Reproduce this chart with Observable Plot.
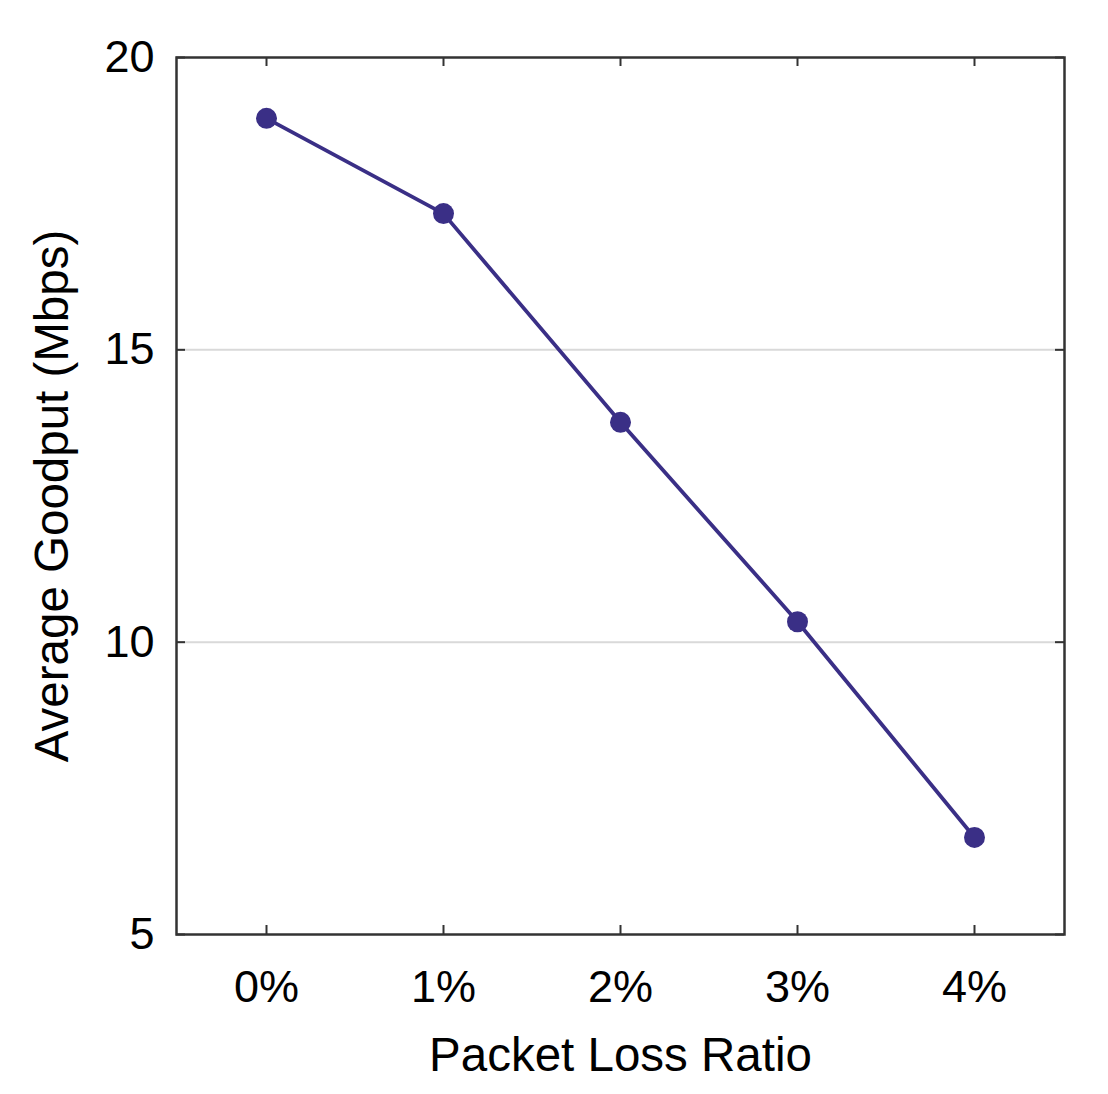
<!DOCTYPE html>
<html>
<head>
<meta charset="utf-8">
<script src="https://cdn.jsdelivr.net/npm/d3@7"></script>
<script src="https://cdn.jsdelivr.net/npm/@observablehq/plot@0.6"></script>
<style>
  html, body { margin: 0; padding: 0; background: #fff; }
  svg { display: block; }
</style>
</head>
<body>
<div id="chart"></div>
<script>
const categories = ["0%", "1%", "2%", "3%", "4%"];
const goodput = [18.96, 17.33, 13.76, 10.35, 6.66];
const yTicks = [5, 10, 15, 20];
const gridValues = [10, 15];
const xLabel = "Packet Loss Ratio";
const yLabel = "Average Goodput (Mbps)";

const data = categories.map((c, i) => ({loss: c, value: goodput[i]}));

const W = 1108, H = 1094;
const mL = 176, mR = 44, mT = 57, mB = 160;
const fw = W - mL - mR, fh = H - mT - mB;
const tick = 9;
const lineColor = "#3a2f86";
const font = "Liberation Sans, Arial, Helvetica, sans-serif";

const chart = Plot.plot({
  width: W,
  height: H,
  marginLeft: mL,
  marginRight: mR,
  marginTop: mT,
  marginBottom: mB,
  style: {fontFamily: font, background: "#fff", color: "#000"},
  x: {type: "point", domain: categories, padding: 0.5},
  y: {domain: [5, 20]},
  marks: [
    Plot.ruleY(gridValues, {stroke: "#d9d9d9", strokeWidth: 2}),
    // inward ticks
    Plot.ruleX(categories, {stroke: "#333", strokeWidth: 2, insetTop: fh - tick}),
    Plot.ruleX(categories, {stroke: "#333", strokeWidth: 2, insetBottom: fh - tick}),
    Plot.ruleY(yTicks, {stroke: "#333", strokeWidth: 2, insetRight: fw - tick}),
    Plot.ruleY(yTicks, {stroke: "#333", strokeWidth: 2, insetLeft: fw - tick}),
    Plot.frame({stroke: "#333", strokeWidth: 2.5}),
    Plot.axisX({tickSize: 0, tickPadding: 36, fontSize: 45, label: null}),
    Plot.axisY({ticks: yTicks, tickSize: 0, tickPadding: 22, fontSize: 45, label: null}),
    Plot.text([xLabel], {frameAnchor: "bottom", dy: 121, fontSize: 47.5, fill: "#000", textAnchor: "middle", lineAnchor: "middle"}),
    Plot.text([yLabel], {frameAnchor: "left", rotate: -90, dx: -124, fontSize: 47.5, fill: "#000", textAnchor: "middle", lineAnchor: "middle"}),
    Plot.line(data, {x: "loss", y: "value", stroke: lineColor, strokeWidth: 3.8}),
    Plot.dot(data, {x: "loss", y: "value", r: 10.5, fill: lineColor, stroke: "none"})
  ]
});
document.getElementById("chart").appendChild(chart);
</script>
</body>
</html>
